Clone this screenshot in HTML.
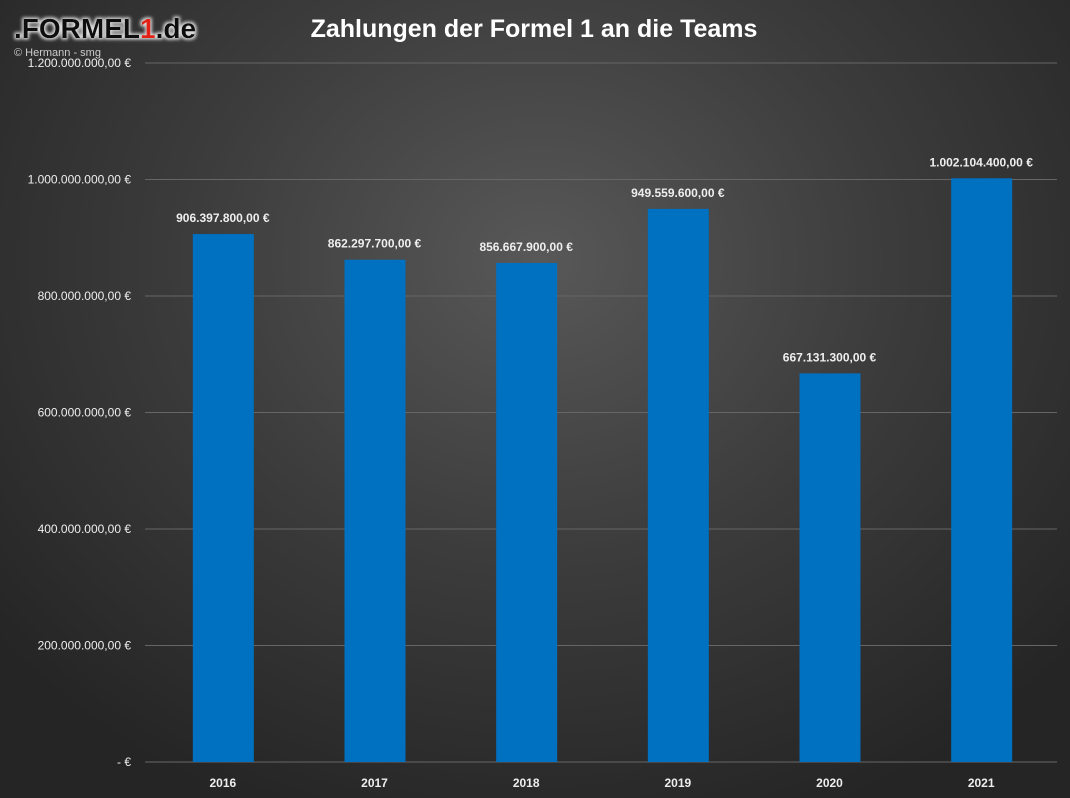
<!DOCTYPE html>
<html><head><meta charset="utf-8"><style>
html,body{margin:0;padding:0}
body{width:1070px;height:798px;overflow:hidden;background:radial-gradient(ellipse 700px 600px at 540px 260px,#585858 0%,#3c3c3c 50%,#252525 100%);font-family:"Liberation Sans",sans-serif}
svg{display:block}
</style></head><body>
<svg width="1070" height="798">
<defs><filter id="glow"><feMorphology operator="dilate" radius="1.5" in="SourceAlpha" result="d"/><feGaussianBlur in="d" stdDeviation="1.5" result="b"/><feFlood flood-color="#ddd"/><feComposite in2="b" operator="in" result="g"/><feMerge><feMergeNode in="g"/><feMergeNode in="SourceGraphic"/></feMerge></filter></defs>
<text x="14" y="38" font-size="28" font-weight="bold" fill="#111" filter="url(#glow)">.FORMEL<tspan fill="#e32219">1</tspan>.de</text>
<text x="14" y="56" font-size="11" fill="#ccc">© Hermann - smg</text>
<text x="534" y="37" font-size="25" font-weight="bold" fill="#fff" text-anchor="middle">Zahlungen der Formel 1 an die Teams</text>
<g id="grid"></g><g id="bars"></g>
</svg>
<script>
const categories=["2016","2017","2018","2019","2020","2021"];
const values=[906397800,862297700,856667900,949559600,667131300,1002104400];
const valueLabels=["906.397.800,00 €","862.297.700,00 €","856.667.900,00 €","949.559.600,00 €","667.131.300,00 €","1.002.104.400,00 €"];
const ticks=[0,200000000,400000000,600000000,800000000,1000000000,1200000000];
const tickLabels=["-  €","200.000.000,00 €","400.000.000,00 €","600.000.000,00 €","800.000.000,00 €","1.000.000.000,00 €","1.200.000.000,00 €"];
const NS="http://www.w3.org/2000/svg";
const x0=147,x1=1057,y0=762,y1=63,max=1200000000;
const y=v=>y0-(v/max)*(y0-y1);
const bw=(x1-x0)/categories.length;
const xc=i=>x0+bw*(i+0.5);
function mk(t,a,p){const e=document.createElementNS(NS,t);for(const k in a)e.setAttribute(k,a[k]);p.appendChild(e);return e;}
const g=document.getElementById('grid'),b=document.getElementById('bars');
ticks.forEach((t,i)=>{
 const l=mk('line',{x1:145,x2:x1,y1:y(t),y2:y(t),stroke:'#666','stroke-width':1},g);
 
 
 const tx=mk('text',{x:131,y:y(t)+4,'font-size':12,fill:'#eee','text-anchor':'end'},g);
 tx.textContent=tickLabels[i];
 
 
});
values.forEach((v,i)=>{
 const r=mk('rect',{x:xc(i)-30,y:y(v),width:61,height:y0-y(v),fill:'#0070c0'},b);
 
 
 const t=mk('text',{x:xc(i),y:y(v)-12,'font-size':12,'font-weight':'bold',fill:'#eee','text-anchor':'middle'},b);
 t.textContent=valueLabels[i];
 
 
 const c=mk('text',{x:xc(i),y:787,'font-size':12,'font-weight':'bold',fill:'#eee','text-anchor':'middle'},b);
 c.textContent=categories[i];
 
 
});
</script>
</body></html>
